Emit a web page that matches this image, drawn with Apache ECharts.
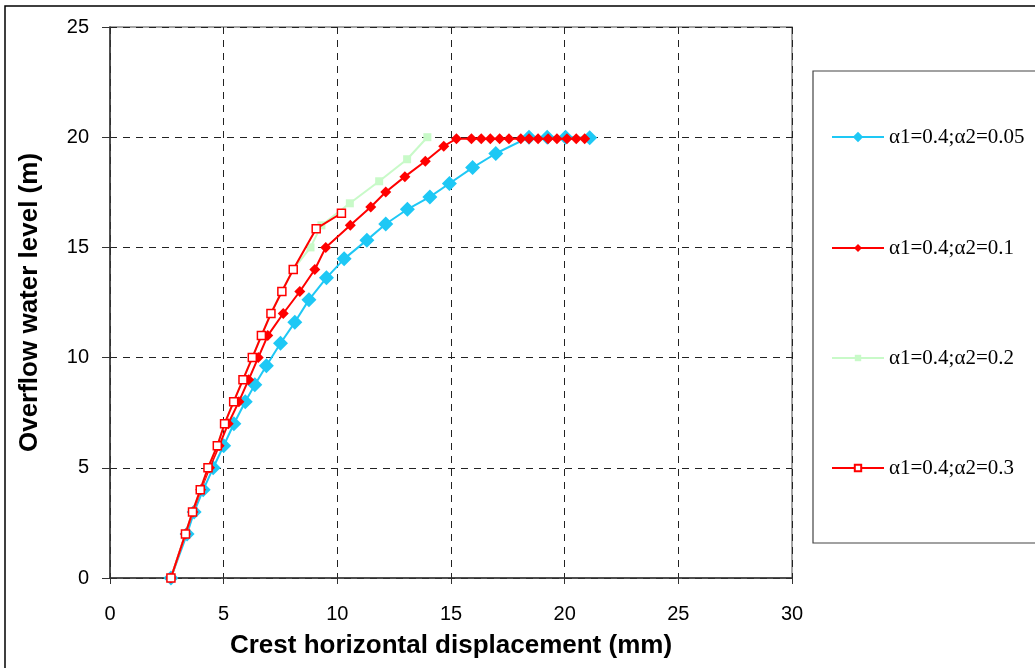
<!DOCTYPE html>
<html>
<head>
<meta charset="utf-8">
<script src="https://cdn.jsdelivr.net/npm/echarts@6/dist/echarts.min.js"></script>
<style>
  html, body { margin: 0; padding: 0; background: #fff; }
  #chart { width: 1035px; height: 668px; }
</style>
</head>
<body>
<div id="chart"></div>
<script>
// series names
const names = ['α1=0.4;α2=0.05', 'α1=0.4;α2=0.1', 'α1=0.4;α2=0.2', 'α1=0.4;α2=0.3'];

// a2 = 0.05 (blue diamonds)
const disp005 = [2.68, 3.39, 3.7, 4.1, 4.54, 5.0, 5.45, 5.95, 6.37, 6.88, 7.5, 8.13, 8.75, 9.52, 10.3, 11.3, 12.13, 13.08, 14.07, 14.93, 15.95, 16.97, 18.43, 19.23, 20.04, 21.1];
const level005 = [0, 2, 3, 4, 5, 6, 7, 8, 8.77, 9.63, 10.65, 11.6, 12.62, 13.62, 14.48, 15.33, 16.06, 16.73, 17.29, 17.9, 18.62, 19.26, 20.0, 20.0, 20.0, 19.97];

// a2 = 0.1 (red diamonds)
const disp01 = [2.68, 3.32, 3.65, 3.99, 4.38, 4.8, 5.2, 5.67, 6.1, 6.52, 6.94, 7.62, 8.35, 9.01, 9.49, 10.57, 11.47, 12.13, 12.97, 13.87, 14.68, 15.24, 15.9, 16.33, 16.73, 17.14, 17.55, 18.07, 18.43, 18.83, 19.27, 19.66, 20.1, 20.51, 20.88];
const level01 = [0, 2, 3, 4, 5, 6, 7, 8, 9, 10, 11, 12, 13, 14, 15, 16, 16.83, 17.51, 18.21, 18.91, 19.59, 19.93, 19.93, 19.93, 19.93, 19.93, 19.93, 19.93, 19.93, 19.93, 19.93, 19.93, 19.93, 19.93, 19.93];

// a2 = 0.2 (light green squares)
const disp02 = [2.68, 3.32, 3.63, 3.97, 4.31, 4.72, 5.04, 5.44, 5.85, 6.26, 6.66, 7.08, 7.56, 8.06, 8.82, 9.3, 10.55, 11.84, 13.07, 13.96];
const level02 = [0, 2, 3, 4, 5, 6, 7, 8, 9, 10, 11, 12, 13, 14, 15, 16, 17, 18, 19, 20];

// a2 = 0.3 (red hollow squares)
const disp03 = [2.68, 3.32, 3.63, 3.97, 4.31, 4.72, 5.04, 5.44, 5.85, 6.26, 6.66, 7.08, 7.56, 8.06, 9.07, 10.18];
const level03 = [0, 2, 3, 4, 5, 6, 7, 8, 9, 10, 11, 12, 13, 14, 15.85, 16.55];

const pairs = (xs, ys) => xs.map((x, i) => [x, ys[i]]);

const styles = [
  { symbol: 'diamond', size: 15, legendSize: 13, color: '#1EC8F5', fill: '#1EC8F5' },
  { symbol: 'diamond', size: 11, legendSize: 10, color: '#FF0000', fill: '#FF0000' },
  { symbol: 'rect', size: 8, legendSize: 8, color: '#C8FAC8', fill: '#C8FAC8' },
  { symbol: 'rect', size: 8, legendSize: 8, color: '#FF0000', fill: '#FFFFFF' }
];
const datas = [
  pairs(disp005, level005),
  pairs(disp01, level01),
  pairs(disp02, level02),
  pairs(disp03, level03)
];

const chart = echarts.init(document.getElementById('chart'));

// centre line of each legend entry (same heights as 20, 15, 10, 5 on the y axis)
const legendMid = [137, 248, 358, 468];

const option = {
  animation: false,
  backgroundColor: '#fff',
  grid: { left: 110, top: 27, right: 243, bottom: 90, show: true, borderColor: '#888', borderWidth: 1.5 },
  legend: names.map((n, i) => ({
    data: [n],
    left: 831,
    top: legendMid[i] - 12,
    padding: 0,
    itemWidth: 52,
    itemHeight: styles[i].legendSize,
    textStyle: { fontFamily: 'Liberation Serif', fontSize: 21, color: '#000', lineHeight: 24 }
  })),
  graphic: [
    { type: 'rect', shape: { x: 5, y: 6, width: 1060, height: 700 }, style: { fill: 'none', stroke: '#000', lineWidth: 1.5 }, silent: true },
    { type: 'rect', shape: { x: 813, y: 71, width: 240, height: 472 }, style: { fill: 'none', stroke: '#444', lineWidth: 1.2 }, silent: true }
  ],
  xAxis: {
    type: 'value',
    min: 0, max: 30, interval: 5,
    name: 'Crest horizontal displacement (mm)',
    nameLocation: 'middle',
    nameGap: 55,
    nameTextStyle: { fontFamily: 'Liberation Sans', fontWeight: 'bold', fontSize: 26, color: '#000' },
    axisLine: { lineStyle: { color: '#333', width: 1.5 } },
    axisTick: { show: true, inside: false, length: 6, lineStyle: { color: '#333' } },
    axisLabel: { fontFamily: 'Liberation Sans', fontSize: 20, color: '#000', margin: 26 },
    splitLine: { show: true, lineStyle: { color: '#222', type: [7, 6], width: 1 } }
  },
  yAxis: {
    type: 'value',
    min: 0, max: 25, interval: 5,
    name: 'Overflow water level (m)',
    nameLocation: 'middle',
    nameGap: 67,
    nameRotate: 90,
    nameTextStyle: { fontFamily: 'Liberation Sans', fontWeight: 'bold', fontSize: 26, color: '#000' },
    axisLine: { show: true, lineStyle: { color: '#333', width: 1.5 } },
    axisTick: { show: true, inside: false, length: 8, lineStyle: { color: '#333' } },
    axisLabel: { fontFamily: 'Liberation Sans', fontSize: 20, color: '#000', margin: 21 },
    splitLine: { show: true, lineStyle: { color: '#222', type: [7, 6], width: 1 } }
  },
  series: names.map((n, i) => ({
    name: n,
    type: 'line',
    data: datas[i],
    symbol: styles[i].symbol,
    symbolSize: styles[i].size,
    showAllSymbol: true,
    z: 10 + i,
    lineStyle: { color: styles[i].color, width: 2 },
    itemStyle: {
      color: styles[i].fill,
      borderColor: styles[i].color,
      borderWidth: i === 3 ? 1.5 : 0
    }
  }))
};

chart.setOption(option);
</script>
</body>
</html>
